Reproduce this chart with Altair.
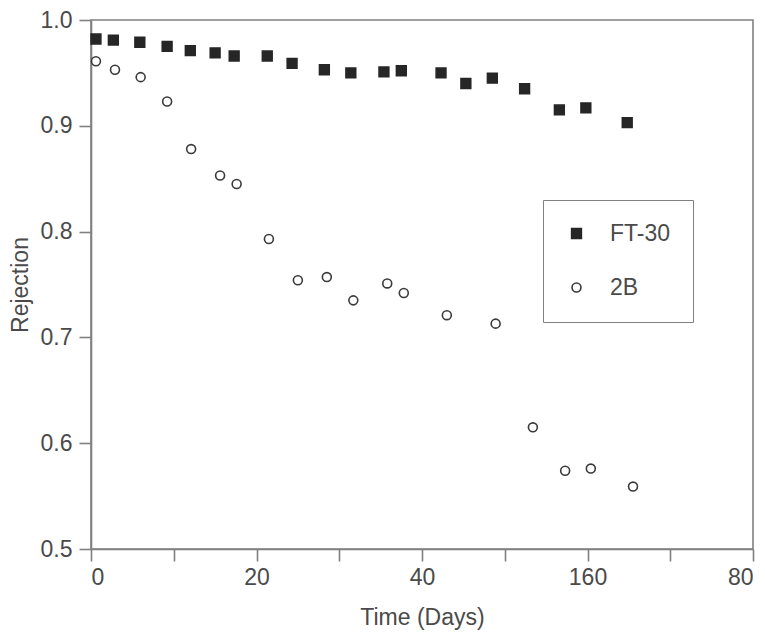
import altair as alt
import pandas as pd

# --- data ---
ft30_days = [0.6, 2.7, 5.9, 9.2, 12.0, 15.0, 17.3, 21.3, 24.3, 28.2, 31.4, 35.4,
             37.5, 42.3, 45.3, 48.5, 52.4, 56.6, 59.8, 64.8]
ft30_rej = [0.982, 0.981, 0.979, 0.975, 0.971, 0.969, 0.966, 0.966, 0.959, 0.953,
            0.950, 0.951, 0.952, 0.950, 0.940, 0.945, 0.935, 0.915, 0.917, 0.903]

b2_days = [0.6, 2.9, 6.0, 9.2, 12.1, 15.6, 17.6, 21.5, 25.0, 28.5, 31.7, 35.8,
           37.8, 43.0, 48.9, 53.4, 57.3, 60.4, 65.5]
b2_rej = [0.961, 0.953, 0.946, 0.923, 0.878, 0.853, 0.845, 0.793, 0.754, 0.757,
          0.735, 0.751, 0.742, 0.721, 0.713, 0.615, 0.574, 0.576, 0.559]

series_names = ["FT-30", "2B"]
x_tick_values = [0, 10, 20, 30, 40, 50, 60, 70, 80]
x_tick_labels = ["0", "", "20", "", "40", "", "160", "", "80"]
y_tick_values = [0.5, 0.6, 0.7, 0.8, 0.9, 1.0]

df = pd.concat([
    pd.DataFrame({"Time": ft30_days, "Rejection": ft30_rej, "Series": series_names[0]}),
    pd.DataFrame({"Time": b2_days, "Rejection": b2_rej, "Series": series_names[1]}),
], ignore_index=True)

label_map = "{" + ",".join(f"'{v}':'{l}'" for v, l in zip(x_tick_values, x_tick_labels)) + "}"
x_label_expr = f"{label_map}[datum.value + '']"

FONT = "Liberation Sans"
TEXT = "#4a4a4a"
AXIS = "#808080"
INK = "#262626"
FS = 23

chart = alt.Chart(df).mark_point(strokeWidth=1.6, opacity=1).encode(
    x=alt.X("Time:Q",
            scale=alt.Scale(domain=[0, 80], nice=False, zero=False),
            axis=alt.Axis(title="Time (Days)", values=x_tick_values,
                          labelExpr=x_label_expr, grid=False,
                          tickSize=12, labelPadding=5, titlePadding=17)),
    y=alt.Y("Rejection:Q",
            scale=alt.Scale(domain=[0.5, 1.0], nice=False, zero=False),
            axis=alt.Axis(title="Rejection", values=y_tick_values, format=".1f",
                          grid=False, tickSize=12, labelPadding=7, titlePadding=8)),
    shape=alt.Shape("Series:N", scale=alt.Scale(domain=series_names, range=["square", "circle"]),
                    legend=alt.Legend(title=None)),
    fill=alt.Fill("Series:N", scale=alt.Scale(domain=series_names, range=[INK, "white"]),
                  legend=alt.Legend(title=None)),
    stroke=alt.Stroke("Series:N", scale=alt.Scale(domain=series_names, range=[INK, "#3a3a3a"]),
                      legend=alt.Legend(title=None)),
    size=alt.Size("Series:N", scale=alt.Scale(domain=series_names, range=[95, 80]),
                  legend=alt.Legend(title=None)),
).properties(
    width=662,
    height=529,
    autosize=alt.AutoSizeParams(type="none"),
    padding={"left": 83, "top": 12, "right": 4, "bottom": 92},
).configure_view(
    stroke=AXIS, strokeWidth=1.6
).configure_axis(
    domainColor=AXIS, domainWidth=1.6, tickColor=AXIS, tickWidth=1.6,
    labelFont=FONT, labelFontSize=FS, labelColor=TEXT,
    titleFont=FONT, titleFontSize=FS, titleColor=TEXT, titleFontWeight="normal",
).configure_legend(
    orient="none", legendX=452, legendY=180,
    strokeColor=AXIS, padding=22, rowPadding=30, labelOffset=22,
    labelFont=FONT, labelFontSize=FS, labelColor=TEXT,
    symbolStrokeWidth=1.6,
)

chart.save("out.html", embed_options={"renderer": "svg", "actions": False})
